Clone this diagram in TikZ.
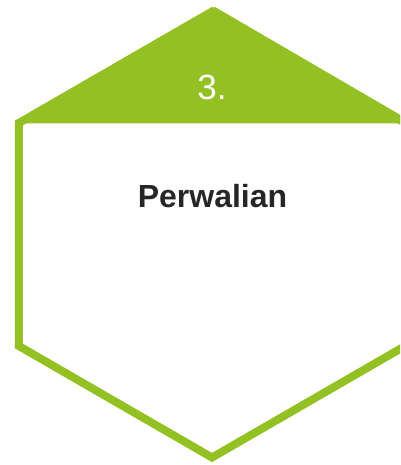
\documentclass[tikz,border=0pt]{standalone}
\usepackage{fontspec}
\setmainfont{Liberation Sans}
\usetikzlibrary{positioning}
\definecolor{LeafGreen}{HTML}{93C123}
\definecolor{TitleGray}{HTML}{262626}
\tikzset{
  % Shape styles
  hexframe/.style={draw=LeafGreen, line width=8pt, line join=miter},
  capfill/.style={fill=LeafGreen},
  % Text styles
  numlabel/.style={text=white, font=\fontsize{35}{40}\selectfont, inner sep=0pt},
  titlelabel/.style={text=TitleGray, font=\fontsize{32}{38}\selectfont\bfseries, inner sep=0pt}
}

\begin{document}
\begin{tikzpicture}[x=1pt, y=1pt]
  \clip (0,0) rectangle (400,465);
  % Hexagon outline
  \coordinate (hexc) at (212,230.5);
  \draw[hexframe] (hexc) +(90:223) -- +(150:223) -- +(210:223) -- +(270:223) -- +(330:223) -- +(30:223) -- cycle;

  % Top cap
  \coordinate (capl) at (15,341.5);
  \coordinate (capr) at (415,341.5);
  \coordinate (capt) at (215,458);
  \fill[capfill] (capt) -- (capl) -- (capr) -- cycle;

  % Labels
  \node[numlabel] (num) at (212,378) {3.};
  \node[titlelabel] (title) at (212.5,268.5) {Perwalian};
\end{tikzpicture}
\end{document}
